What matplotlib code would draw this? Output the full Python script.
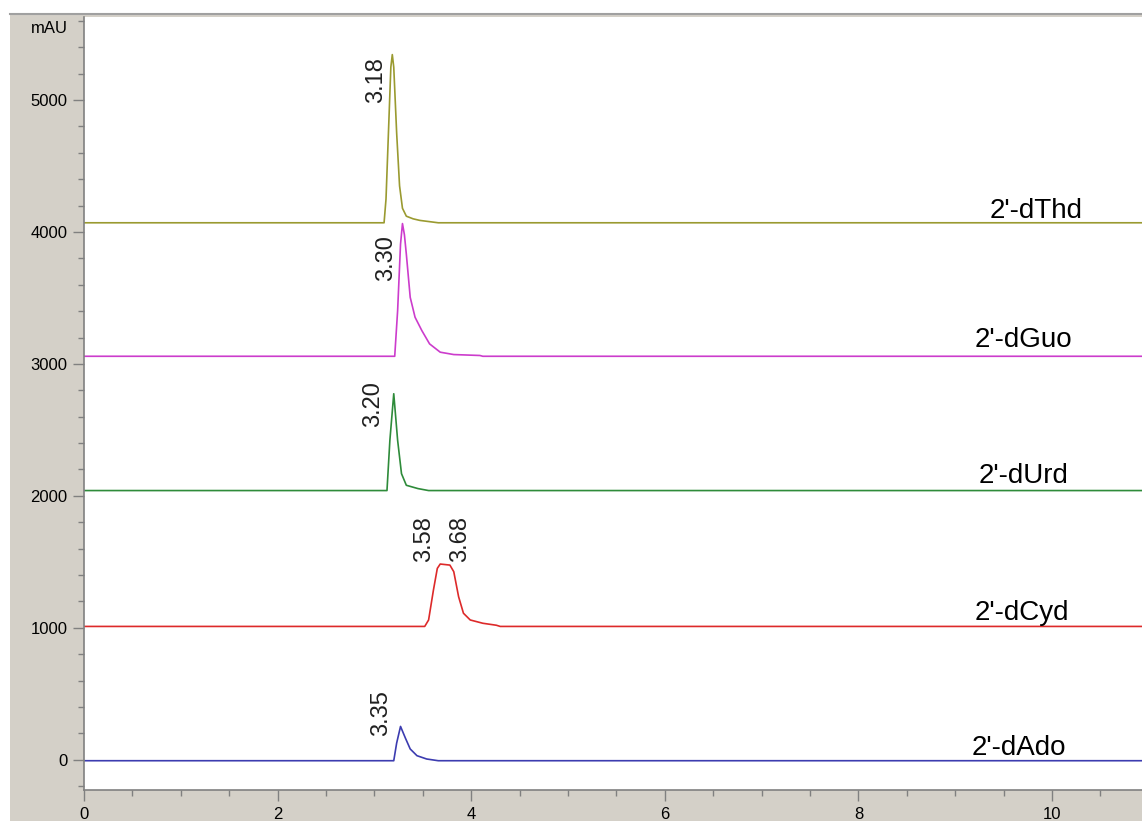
import matplotlib.pyplot as plt
import matplotlib.ticker as ticker
from matplotlib.patches import Rectangle
from matplotlib.lines import Line2D

# ==========================================
# HPLC chromatograms of five deoxynucleosides (stacked traces)
# ==========================================

# 1. Trace data (time in min, signal in mAU)
t_end = 10.93

thd_t = [0, 3.10, 3.12, 3.15, 3.17, 3.185, 3.20, 3.23, 3.26, 3.29, 3.33, 3.40, 3.47, 3.66, t_end]
thd_y = [4070, 4070, 4250, 4850, 5250, 5345, 5250, 4750, 4350, 4180, 4120, 4100, 4088, 4070, 4070]

guo_t = [0, 3.21, 3.24, 3.27, 3.29, 3.31, 3.33, 3.37, 3.42, 3.49, 3.57, 3.68, 3.82, 4.09, 4.12, t_end]
guo_y = [3058, 3058, 3404, 3908, 4064, 3980, 3832, 3505, 3354, 3253, 3152, 3089, 3071, 3064, 3058, 3058]

urd_t = [0, 3.13, 3.16, 3.20, 3.24, 3.28, 3.33, 3.45, 3.56, t_end]
urd_y = [2040, 2040, 2421, 2774, 2421, 2168, 2080, 2055, 2040, 2040]

cyd_t = [0, 3.52, 3.56, 3.61, 3.65, 3.68, 3.78, 3.82, 3.87, 3.92, 3.99, 4.12, 4.26, 4.30, t_end]
cyd_y = [1010, 1010, 1059, 1286, 1450, 1483, 1475, 1425, 1235, 1110, 1059, 1034, 1019, 1010, 1010]

ado_t = [0, 3.20, 3.23, 3.27, 3.32, 3.37, 3.44, 3.54, 3.66, t_end]
ado_y = [-8, -8, 126, 252, 164, 81, 30, 5, -8, -8]

trace_names = ["2'-dThd", "2'-dGuo", "2'-dUrd", "2'-dCyd", "2'-dAdo"]
trace_colors = ["#9a9a30", "#cc3ccc", "#2e8b3a", "#dd2a2a", "#3c3cb0"]
name_x = [9.36, 9.20, 9.24, 9.20, 9.17]
name_y = [4107, 3132, 2095, 1059, 38]

# Retention time labels: text, x centre, bottom of the rotated text
rt_text = ["3.18", "3.30", "3.20", "3.58", "3.68", "3.35"]
rt_x = [3.02, 3.12, 2.99, 3.51, 3.89, 3.07]
rt_y = [4977, 3631, 2520, 1499, 1499, 176]

traces = [(thd_t, thd_y), (guo_t, guo_y), (urd_t, urd_y), (cyd_t, cyd_y), (ado_t, ado_y)]

# 2. Figure canvas imitating the ChemStation window
plt.rcParams["font.family"] = ["Liberation Sans", "DejaVu Sans"]
fig = plt.figure(figsize=(11.42, 8.21), dpi=100, facecolor="white")
fig.patches.append(
    Rectangle((10 / 1142, 0), 1, (821 - 14) / 821, transform=fig.transFigure,
              facecolor="#d4d0c8", edgecolor="none", zorder=-10)
)
fig.lines.append(
    Line2D([10 / 1142, 1], [(821 - 14) / 821] * 2, transform=fig.transFigure,
           color="#a0a0a0", linewidth=1.5, zorder=-5)
)

ax = fig.add_axes([84 / 1142, 31 / 821, 1 - 84 / 1142, (790 - 17) / 821])
ax.set_facecolor("white")

# 3. Traces, drawn top to bottom so lower traces sit on top
for (t, y), color in zip(traces, trace_colors):
    ax.plot(t, y, color=color, linewidth=1.2)

for name, x, y in zip(trace_names, name_x, name_y):
    ax.text(x, y, name, fontsize=20, ha="left", va="baseline", color="black")

for txt, x, y in zip(rt_text, rt_x, rt_y):
    ax.text(x, y, txt, fontsize=17, rotation=90, ha="center", va="bottom",
            color="#202020")

# 4. Axes, ticks and spines
ax.set_xlim(0, t_end)
ax.set_ylim(-230, 5630)
ax.xaxis.set_major_locator(ticker.MultipleLocator(2))
ax.xaxis.set_minor_locator(ticker.MultipleLocator(0.5))
ax.yaxis.set_major_locator(ticker.FixedLocator([0, 1000, 2000, 3000, 4000, 5000]))
ax.yaxis.set_minor_locator(ticker.MultipleLocator(200))

ax.tick_params(which="major", length=8, width=1, color="#808080",
               labelsize=12, pad=4, direction="out")
ax.tick_params(which="minor", length=4, width=1, color="#808080", direction="out")

for side in ["top", "right"]:
    ax.spines[side].set_visible(False)
for side in ["left", "bottom"]:
    ax.spines[side].set_color("#808080")
    ax.spines[side].set_linewidth(1.2)

ax.text(-0.015, 5540, "mAU", transform=ax.get_yaxis_transform(),
        ha="right", va="center", fontsize=12)

plt.savefig("out.png", dpi=100, facecolor=fig.get_facecolor())
